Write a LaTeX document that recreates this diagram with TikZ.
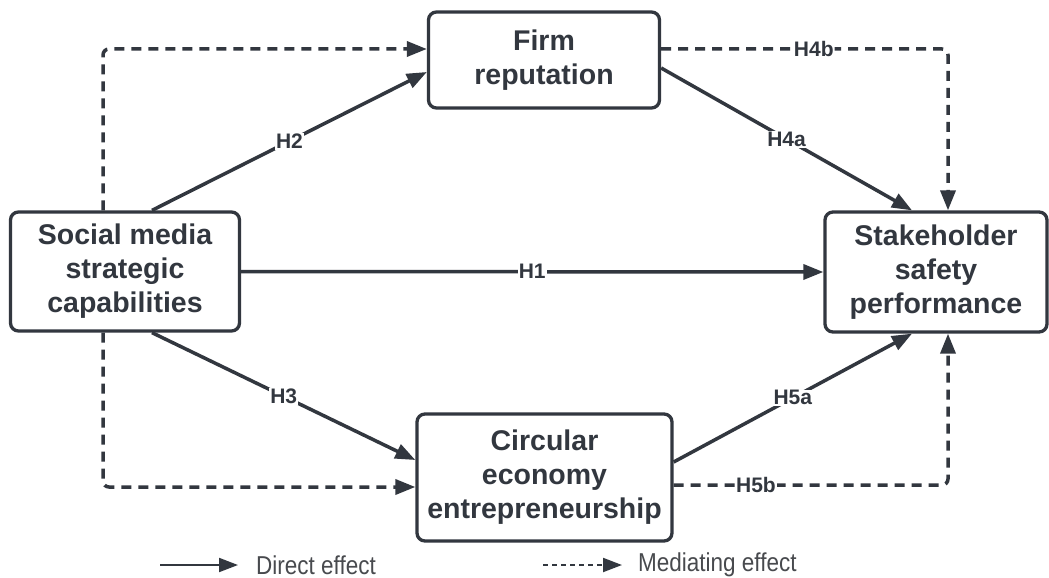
\documentclass[tikz,border=0pt]{standalone}
\usepackage{fontspec}
\setmainfont{Liberation Sans}
\usetikzlibrary{arrows.meta,calc}
\definecolor{ink}{RGB}{50,55,63}
\definecolor{legendgray}{RGB}{72,74,78}
\tikzset{
  box/.style={draw=ink, line width=3.3pt, rounded corners=8pt, fill=white,
    align=center, inner sep=0pt, text=ink,
    font=\fontsize{28.5}{34}\selectfont\bfseries},
  conn/.style={draw=ink, line width=3.5pt, -{Triangle[length=20pt,width=15pt]}},
  dconn/.style={conn, dash pattern=on 10pt off 7pt, rounded corners=6pt},
  hlabel/.style={fill=white, inner sep=1pt, text=ink,
    font=\fontsize{21}{24}\selectfont\bfseries},
  legtext/.style={anchor=west, text=legendgray, inner sep=0pt,
    font=\fontsize{22.5}{26}\selectfont, yscale=1.15}
}
\begin{document}
\begin{tikzpicture}[x=1pt,y=-1pt]
\useasboundingbox (0,0) rectangle (1049,578);
\fill[white] (0,0) rectangle (1049,578);

\node[box, minimum width=229pt, minimum height=119pt] (SM) at (125,271.5)
  {Social media\\strategic\\capabilities};
\node[box, minimum width=231pt, minimum height=96pt] (FR) at (544,60)
  {Firm\\reputation};
\node[box, minimum width=222pt, minimum height=120pt] (SS) at (936,272)
  {Stakeholder\\safety\\performance};
\node[box, minimum width=255pt, minimum height=127pt] (CE) at (544.5,477.5)
  {Circular\\economy\\entrepreneurship};

% direct effects
\draw[conn] (SM.east) -- node[hlabel]{H1} (SS.west);
\draw[conn] ([xshift=27pt]SM.north) -- node[hlabel]{H2} ([yshift=-12pt]FR.west);
\draw[conn] ([xshift=27pt]SM.south) -- node[hlabel]{H3} ([yshift=17.5pt]CE.west);
\draw[conn] ([yshift=-8pt]FR.east) -- node[hlabel]{H4a} ([xshift=-24pt]SS.north);
\draw[conn] ([yshift=15.5pt]CE.east) -- node[hlabel]{H5a} ([xshift=-24pt]SS.south);

% mediating effects
\draw[dconn] ([xshift=-22pt]SM.north) |- ([yshift=11pt]FR.west);
\draw[dconn] ([xshift=-22pt]SM.south) |- ([yshift=-9.5pt]CE.west);
\draw[dconn] ([yshift=11pt]FR.east) -| node[hlabel, pos=0.266]{H4b} ([xshift=12pt]SS.north);
\draw[dconn] ([yshift=-7.5pt]CE.east) -| node[hlabel, pos=0.15]{H5b} ([xshift=12pt]SS.south);

% legend
\coordinate (l1s) at (160,565);
\coordinate (l1e) at (238,565);
\coordinate (l2s) at (543,565);
\coordinate (l2e) at (622,565);
\draw[draw=ink, line width=2pt, -{Triangle[length=19pt,width=14pt]}] (l1s) -- (l1e);
\draw[draw=ink, line width=2pt, dash pattern=on 5pt off 4pt, -{Triangle[length=19pt,width=14pt]}] (l2s) -- (l2e);
\node[legtext] (d1) at (256,565) {Direct effect};
\node[legtext] (d2) at (638,565) {Mediating effect};
\end{tikzpicture}
\end{document}
